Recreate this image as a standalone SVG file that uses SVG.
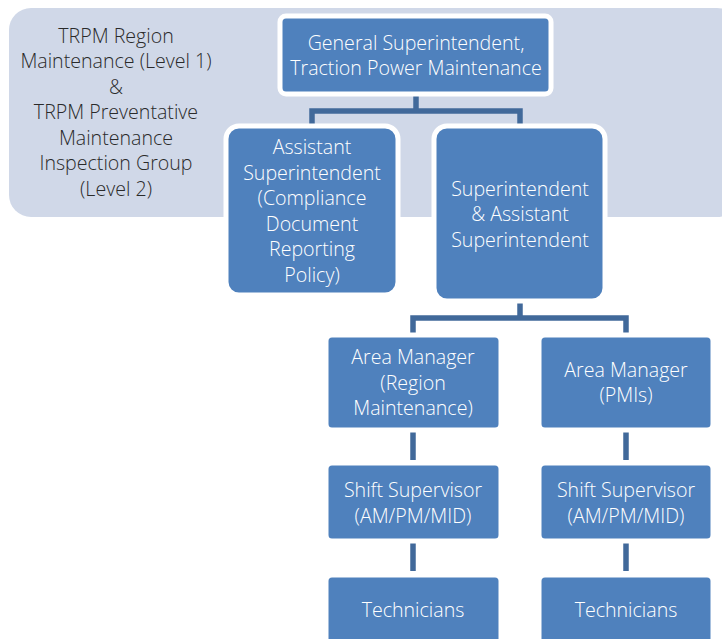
<svg xmlns="http://www.w3.org/2000/svg" width="722" height="639" viewBox="0 0 722 639">
<style>
.bg{fill:#D0D8E8}
.node{fill:#4F81BD;stroke:#FFFFFF;stroke-width:5}
.conn{fill:none;stroke:#41699A;stroke-width:5.5;stroke-linejoin:miter}
.t{font-family:"Open Sans","Noto Sans","Liberation Sans",sans-serif;font-weight:300;font-size:19.6px;fill:#FFFFFF;text-anchor:middle}
.lt{font-family:"Open Sans","Noto Sans","Liberation Sans",sans-serif;font-weight:300;font-size:19.6px;fill:#2A2A2A;text-anchor:middle}
</style>
<rect x="0" y="0" width="722" height="639" fill="#FFFFFF"/>
<g id="group-bg">
<rect class="bg" x="9" y="8" width="730" height="209" rx="22"/>
<text class="lt" x="116" y="43">TRPM Region</text>
<text class="lt" x="116" y="68">Maintenance (Level 1)</text>
<text class="lt" x="116" y="94">&amp;</text>
<text class="lt" x="116" y="119">TRPM Preventative</text>
<text class="lt" x="116" y="145">Maintenance</text>
<text class="lt" x="116" y="170">Inspection Group</text>
<text class="lt" x="116" y="196">(Level 2)</text>
</g>
<g id="connectors">
<path class="conn" d="M416 95 V111 M312 125 V111 H520 V125"/>
<path class="conn" d="M520 300 V318 M413 333 V318 H626 V333"/>
<path class="conn" d="M413 431 V460 M626 431 V460"/>
<path class="conn" d="M413 543 V571 M626 543 V571"/>
</g>
<g id="n-general">
<rect class="node" x="280" y="16" width="271" height="78" rx="6"/>
<text class="t" x="416" y="50">General Superintendent,</text>
<text class="t" x="416" y="75">Traction Power Maintenance</text>
</g>
<g id="n-assistant">
<rect class="node" x="226" y="126" width="172" height="169" rx="13"/>
<text class="t" x="312" y="154">Assistant</text>
<text class="t" x="312" y="180">Superintendent</text>
<text class="t" x="312" y="205">(Compliance</text>
<text class="t" x="312" y="231">Document</text>
<text class="t" x="312" y="256">Reporting</text>
<text class="t" x="312" y="282">Policy)</text>
</g>
<g id="n-super">
<rect class="node" x="434" y="126" width="171" height="175" rx="13"/>
<text class="t" x="520" y="196">Superintendent</text>
<text class="t" x="520" y="221">&amp; Assistant</text>
<text class="t" x="520" y="247">Superintendent</text>
</g>
<g id="n-am-region">
<rect class="node" x="326" y="335" width="175" height="95" rx="6"/>
<text class="t" x="413" y="364">Area Manager</text>
<text class="t" x="413" y="390">(Region</text>
<text class="t" x="413" y="415">Maintenance)</text>
</g>
<g id="n-am-pmi">
<rect class="node" x="539" y="335" width="174" height="95" rx="6"/>
<text class="t" x="626" y="377">Area Manager</text>
<text class="t" x="626" y="402">(PMIs)</text>
</g>
<g id="n-ss-left">
<rect class="node" x="326" y="463" width="175" height="78" rx="6"/>
<text class="t" x="413" y="497">Shift Supervisor</text>
<text class="t" x="413" y="523">(AM/PM/MID)</text>
</g>
<g id="n-ss-right">
<rect class="node" x="539" y="463" width="174" height="78" rx="6"/>
<text class="t" x="626" y="497">Shift Supervisor</text>
<text class="t" x="626" y="523">(AM/PM/MID)</text>
</g>
<g id="n-tech-left">
<rect class="node" x="326" y="575" width="175" height="78" rx="6"/>
<text class="t" x="413" y="617">Technicians</text>
</g>
<g id="n-tech-right">
<rect class="node" x="539" y="575" width="174" height="78" rx="6"/>
<text class="t" x="626" y="617">Technicians</text>
</g>
</svg>
